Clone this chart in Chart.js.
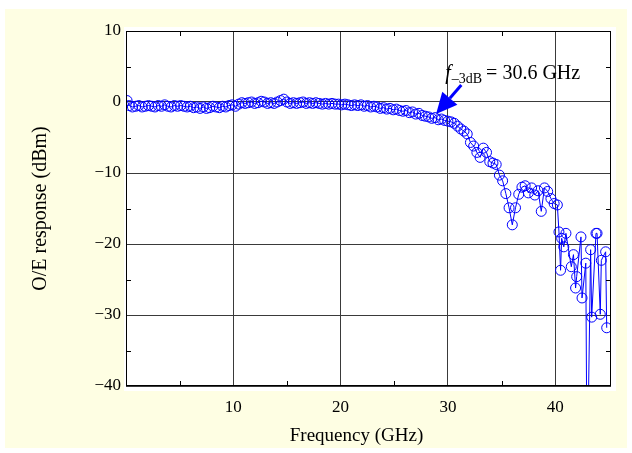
<!DOCTYPE html>
<html>
<head>
<meta charset="utf-8">
<title>O/E response</title>
<script src="https://cdn.jsdelivr.net/npm/chart.js@4.4.1/dist/chart.umd.min.js"></script>
<style>
  html, body { margin: 0; padding: 0; background: #ffffff; }
  #chart { display: block; }
</style>
</head>
<body>
<canvas id="chart" width="632" height="453"></canvas>
<script>
const freqGHz = [
    0.1, 0.3, 0.6, 0.9, 1.2, 1.5, 1.8, 2.1, 2.4, 2.7,
    3.0, 3.3, 3.6, 3.9, 4.2, 4.5, 4.8, 5.1, 5.4, 5.7,
    6.0, 6.3, 6.6, 6.9, 7.2, 7.5, 7.8, 8.1, 8.4, 8.7,
    9.0, 9.3, 9.6, 9.9, 10.2, 10.5, 10.8, 11.1, 11.4, 11.7,
    12.0, 12.3, 12.6, 12.9, 13.2, 13.5, 13.8, 14.1, 14.4, 14.7,
    15.0, 15.3, 15.6, 15.9, 16.2, 16.5, 16.8, 17.1, 17.4, 17.7,
    18.0, 18.3, 18.6, 18.9, 19.2, 19.5, 19.8, 20.1, 20.4, 20.7,
    21.0, 21.3, 21.6, 21.9, 22.2, 22.5, 22.8, 23.1, 23.4, 23.7,
    24.0, 24.3, 24.6, 24.9, 25.2, 25.5, 25.8, 26.1, 26.4, 26.7,
    27.0, 27.3, 27.6, 27.9, 28.2, 28.5, 28.8, 29.1, 29.4, 29.7,
    30.0, 30.3, 30.6, 30.9, 31.2, 31.5, 31.8, 32.1, 32.4, 32.7,
    33.0, 33.3, 33.6, 33.9, 34.2, 34.5, 34.8, 35.1, 35.4, 35.7,
    36.0, 36.3, 36.6, 36.9, 37.2, 37.5, 37.8, 38.1, 38.4, 38.7,
    39.0, 39.3, 39.6, 39.9, 40.2, 40.35, 40.5, 40.6, 40.8, 41.0,
    41.5, 41.7, 41.9, 42.0, 42.4, 42.5, 42.85, 42.95, 43.05, 43.3,
    43.4, 43.8, 43.9, 44.2, 44.3, 44.7, 44.8
];
const responseDb = [
    0.2, -0.5, -0.7, -0.6, -0.5, -0.7, -0.6, -0.5, -0.6, -0.7,
    -0.5, -0.6, -0.4, -0.6, -0.7, -0.5, -0.6, -0.5, -0.6, -0.7,
    -0.6, -0.8, -0.7, -0.9, -0.7, -0.9, -0.8, -0.6, -0.7, -0.8,
    -0.6, -0.7, -0.5, -0.4, -0.6, -0.3, -0.1, -0.2, -0.1, 0.0,
    -0.2, -0.1, 0.1, 0.0, -0.2, -0.1, -0.2, 0.0, 0.2, 0.4,
    0.0, -0.2, -0.1, -0.2, -0.1, 0.0, -0.2, -0.1, -0.2, -0.1,
    -0.2, -0.3, -0.2, -0.3, -0.2, -0.3, -0.3, -0.4, -0.3, -0.4,
    -0.5, -0.4, -0.5, -0.4, -0.6, -0.5, -0.7, -0.6, -0.7, -0.9,
    -0.8, -1.0, -0.9, -1.1, -1.0, -1.2, -1.3, -1.2, -1.5, -1.4,
    -1.7, -1.6, -1.9, -2.0, -2.1, -2.3, -2.2, -2.5, -2.4, -2.6,
    -2.7, -2.8, -3.0, -3.4, -3.8, -4.1, -4.5, -5.7, -6.2, -7.1,
    -7.8, -6.5, -7.1, -8.4, -8.6, -8.8, -10.3, -11.1, -12.9, -14.9,
    -17.3, -14.9, -13.0, -12.0, -11.8, -12.8, -12.1, -13.1, -12.5, -15.4,
    -12.1, -12.6, -13.6, -14.3, -14.5, -18.3, -23.7, -19.2, -20.4, -18.5,
    -23.2, -21.5, -26.2, -24.6, -19.0, -27.6, -22.7, -48.0, -47.0, -20.8,
    -30.3, -18.5, -18.5, -29.9, -22.3, -21.1, -31.8
];

const xTickValues = [10, 20, 30, 40];
const xMinorTicks = [5, 15, 25, 35];
const yTickValues = [10, 0, -10, -20, -30, -40];
const yMinorTicks = [5, -5, -15, -25, -35];

const xTitle = 'Frequency (GHz)';

// 3 dB bandwidth callout (data units)
const cutoffText = '= 30.6 GHz';
const cutoffLabelAt = [29.75, 3.2];
const arrowFrom = [31.25, 2.4];
const arrowTo = [28.9, -1.7];

const serif = "'Liberation Serif', 'Times New Roman', serif";
const blue = '#0000ff';

const paperPlugin = {
    id: 'paper',
    beforeDraw(chart) {
        const { ctx, chartArea: a } = chart;
        ctx.save();
        ctx.fillStyle = '#ffffff';
        ctx.fillRect(0, 0, chart.width, chart.height);
        ctx.fillStyle = '#fefee3';
        ctx.fillRect(5, 9, 622, 439);
        ctx.fillStyle = '#ffffff';
        ctx.fillRect(a.left - 2, a.top - 4, a.right - a.left + 7, a.bottom - a.top + 9);
        ctx.restore();
    },
    afterDraw(chart) {
        const { ctx, chartArea: a } = chart;
        const xs = chart.scales.x;
        const ys = chart.scales.y;
        ctx.save();

        // inward minor ticks on all four sides
        ctx.strokeStyle = '#000';
        ctx.lineWidth = 1;
        ctx.beginPath();
        xMinorTicks.forEach(v => {
            const px = Math.round(xs.getPixelForValue(v)) + 0.5;
            ctx.moveTo(px, a.bottom); ctx.lineTo(px, a.bottom - 5);
            ctx.moveTo(px, a.top); ctx.lineTo(px, a.top + 5);
        });
        yMinorTicks.forEach(v => {
            const py = Math.round(ys.getPixelForValue(v)) + 0.5;
            ctx.moveTo(a.left, py); ctx.lineTo(a.left + 5, py);
            ctx.moveTo(a.right, py); ctx.lineTo(a.right - 5, py);
        });
        ctx.stroke();

        // box
        ctx.strokeStyle = '#000';
        ctx.strokeRect(a.left + 0.5, a.top + 0.5, a.right - a.left - 1, a.bottom - a.top - 1);

        // x axis title (sits a little left of centre in the original)
        ctx.fillStyle = '#000';
        ctx.font = '19px ' + serif;
        ctx.textAlign = 'center';
        ctx.textBaseline = 'middle';
        ctx.fillText(xTitle, (a.left + a.right) / 2 - 12, a.bottom + 50);

        // callout text
        let tx = xs.getPixelForValue(cutoffLabelAt[0]);
        const ty = ys.getPixelForValue(cutoffLabelAt[1]);
        ctx.textBaseline = 'alphabetic';
        ctx.textAlign = 'left';
        ctx.font = 'italic 20px ' + serif;
        ctx.fillText('f', tx, ty);
        tx += ctx.measureText('f').width + 1;
        ctx.font = '14px ' + serif;
        ctx.fillText('\u20133dB', tx, ty + 4);
        tx += ctx.measureText('\u20133dB').width + 4;
        ctx.font = '20px ' + serif;
        ctx.fillText(cutoffText, tx, ty);

        // arrow
        const x0 = xs.getPixelForValue(arrowFrom[0]);
        const y0 = ys.getPixelForValue(arrowFrom[1]);
        const x1 = xs.getPixelForValue(arrowTo[0]);
        const y1 = ys.getPixelForValue(arrowTo[1]);
        const ang = Math.atan2(y1 - y0, x1 - x0);
        const headLen = 21, headHalf = 10;
        const bx = x1 - headLen * Math.cos(ang);
        const by = y1 - headLen * Math.sin(ang);
        ctx.strokeStyle = blue;
        ctx.fillStyle = blue;
        ctx.lineWidth = 3;
        ctx.beginPath();
        ctx.moveTo(x0, y0);
        ctx.lineTo(bx, by);
        ctx.stroke();
        ctx.beginPath();
        ctx.moveTo(x1, y1);
        ctx.lineTo(bx + headHalf * Math.sin(ang), by - headHalf * Math.cos(ang));
        ctx.lineTo(bx - headHalf * Math.sin(ang), by + headHalf * Math.cos(ang));
        ctx.closePath();
        ctx.fill();

        ctx.restore();
    }
};

const ctx = document.getElementById('chart').getContext('2d');
new Chart(ctx, {
    type: 'line',
    data: {
        datasets: [{
            label: 'O/E response',
            data: freqGHz.map((f, i) => ({ x: f, y: responseDb[i] })),
            borderColor: blue,
            borderWidth: 1,
            backgroundColor: 'rgba(0,0,0,0)',
            pointRadius: 5,
            pointBorderWidth: 1,
            pointBorderColor: blue,
            pointBackgroundColor: 'rgba(0,0,0,0)',
            tension: 0
        }]
    },
    options: {
        responsive: false,
        animation: false,
        events: [],
        layout: { padding: { top: 31, right: 21, left: 0, bottom: 0 } },
        plugins: {
            legend: { display: false },
            tooltip: { enabled: false }
        },
        scales: {
            x: {
                type: 'linear',
                min: 0,
                max: 45.2,
                afterFit: s => { s.height = 67; },
                afterBuildTicks: s => { s.ticks = xTickValues.map(v => ({ value: v })); },
                grid: { color: '#3a3a3a', lineWidth: 1, drawTicks: false },
                border: { display: false },
                ticks: {
                    color: '#000',
                    padding: 11,
                    maxRotation: 0,
                    font: { family: serif, size: 17 },
                    callback: v => String(v)
                },
                title: { display: false }
            },
            y: {
                type: 'linear',
                min: -40,
                max: 10,
                afterFit: s => { s.width = 126; },
                afterBuildTicks: s => { s.ticks = yTickValues.map(v => ({ value: v })); },
                grid: { color: '#3a3a3a', lineWidth: 1, drawTicks: false },
                border: { display: false },
                ticks: {
                    color: '#000',
                    padding: 5,
                    font: { family: serif, size: 17 },
                    callback: v => (v < 0 ? '\u2212' + Math.abs(v) : String(v))
                },
                title: {
                    display: true,
                    text: 'O/E response (dBm)',
                    color: '#000',
                    font: { family: serif, size: 20 },
                    padding: 29
                }
            }
        }
    },
    plugins: [paperPlugin]
});
</script>
</body>
</html>
